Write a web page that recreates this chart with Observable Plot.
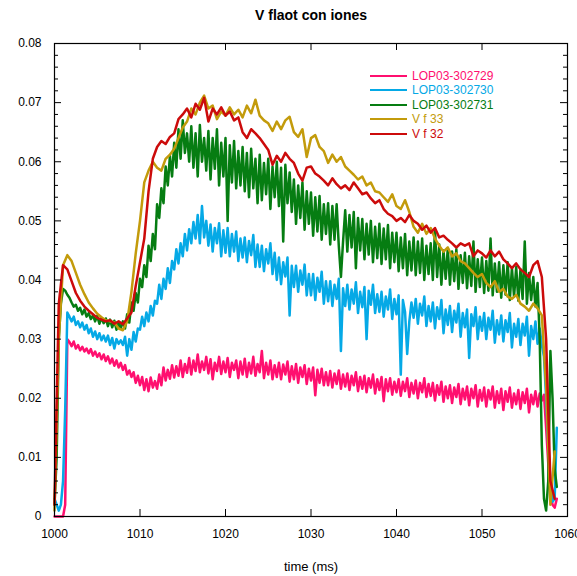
<!DOCTYPE html>
<html><head><meta charset="utf-8">
<script src="https://cdn.jsdelivr.net/npm/d3@7"></script>
<script src="https://cdn.jsdelivr.net/npm/@observablehq/plot@0.6"></script>
<style>
body{margin:0;background:#fff;font-family:"Liberation Sans",Arial,sans-serif;}
#wrap{position:relative;width:577px;height:576px;}
#legend{position:absolute;left:370px;top:68.5px;font-size:12px;}
.item{display:flex;align-items:center;height:14.5px;white-space:nowrap;}
.sw{width:37px;height:0;border-top:2.5px solid;margin-right:5px;}
</style></head><body><div id="wrap"><div id="legend"></div></div>
<script>
// sampling times for the smoother probe signals (0.5 ms)
const times = [
1000,1000.5,1001,1001.5,1002,1002.5,1003,1003.5,1004,1004.5,
1005,1005.5,1006,1006.5,1007,1007.5,1008,1008.5,1009,1009.5,
1010,1010.5,1011,1011.5,1012,1012.5,1013,1013.5,1014,1014.5,
1015,1015.5,1016,1016.5,1017,1017.5,1018,1018.5,1019,1019.5,
1020,1020.5,1021,1021.5,1022,1022.5,1023,1023.5,1024,1024.5,
1025,1025.5,1026,1026.5,1027,1027.5,1028,1028.5,1029,1029.5,
1030,1030.5,1031,1031.5,1032,1032.5,1033,1033.5,1034,1034.5,
1035,1035.5,1036,1036.5,1037,1037.5,1038,1038.5,1039,1039.5,
1040,1040.5,1041,1041.5,1042,1042.5,1043,1043.5,1044,1044.5,
1045,1045.5,1046,1046.5,1047,1047.5,1048,1048.5,1049,1049.5,
1050,1050.5,1051,1051.5,1052,1052.5,1053,1053.5,1054,1054.5,
1055,1055.5,1056,1056.5,1057,1057.5,1058,1058.5];

// sampling times for the noisy LOP03 shots (0.25 ms)
const timesFine = [
1000,1000.25,1000.5,1000.75,1001,1001.25,1001.5,1001.75,
1002,1002.25,1002.5,1002.75,1003,1003.25,1003.5,1003.75,
1004,1004.25,1004.5,1004.75,1005,1005.25,1005.5,1005.75,
1006,1006.25,1006.5,1006.75,1007,1007.25,1007.5,1007.75,
1008,1008.25,1008.5,1008.75,1009,1009.25,1009.5,1009.75,
1010,1010.25,1010.5,1010.75,1011,1011.25,1011.5,1011.75,
1012,1012.25,1012.5,1012.75,1013,1013.25,1013.5,1013.75,
1014,1014.25,1014.5,1014.75,1015,1015.25,1015.5,1015.75,
1016,1016.25,1016.5,1016.75,1017,1017.25,1017.5,1017.75,
1018,1018.25,1018.5,1018.75,1019,1019.25,1019.5,1019.75,
1020,1020.25,1020.5,1020.75,1021,1021.25,1021.5,1021.75,
1022,1022.25,1022.5,1022.75,1023,1023.25,1023.5,1023.75,
1024,1024.25,1024.5,1024.75,1025,1025.25,1025.5,1025.75,
1026,1026.25,1026.5,1026.75,1027,1027.25,1027.5,1027.75,
1028,1028.25,1028.5,1028.75,1029,1029.25,1029.5,1029.75,
1030,1030.25,1030.5,1030.75,1031,1031.25,1031.5,1031.75,
1032,1032.25,1032.5,1032.75,1033,1033.25,1033.5,1033.75,
1034,1034.25,1034.5,1034.75,1035,1035.25,1035.5,1035.75,
1036,1036.25,1036.5,1036.75,1037,1037.25,1037.5,1037.75,
1038,1038.25,1038.5,1038.75,1039,1039.25,1039.5,1039.75,
1040,1040.25,1040.5,1040.75,1041,1041.25,1041.5,1041.75,
1042,1042.25,1042.5,1042.75,1043,1043.25,1043.5,1043.75,
1044,1044.25,1044.5,1044.75,1045,1045.25,1045.5,1045.75,
1046,1046.25,1046.5,1046.75,1047,1047.25,1047.5,1047.75,
1048,1048.25,1048.5,1048.75,1049,1049.25,1049.5,1049.75,
1050,1050.25,1050.5,1050.75,1051,1051.25,1051.5,1051.75,
1052,1052.25,1052.5,1052.75,1053,1053.25,1053.5,1053.75,
1054,1054.25,1054.5,1054.75,1055,1055.25,1055.5,1055.75,
1056,1056.25,1056.5,1056.75,1057,1057.25,1057.5,1057.75,
1058,1058.25,1058.5,1058.75];

const lop302729 = [
.000,.000,.000,.000,.000,.002,.0300,.0295,
.0288,.0296,.0284,.0290,.0281,.0287,.0279,.0284,
.0276,.0283,.0272,.0279,.0270,.0276,.0266,.0274,
.0263,.0271,.0259,.0267,.0255,.0264,.0252,.0260,
.0248,.0256,.0240,.0247,.0236,.0244,.0226,.0238,
.0222,.0236,.0214,.0232,.0212,.0235,.0218,.0229,
.0216,.0240,.0222,.0252,.0230,.0248,.0233,.0256,
.0235,.0254,.0238,.0264,.0236,.0258,.0243,.0268,
.0240,.0264,.0246,.0274,.0244,.0262,.0248,.0270,
.0242,.0266,.0232,.0260,.0246,.0270,.0241,.0262,
.0244,.0268,.0236,.0260,.0248,.0264,.0234,.0262,
.0240,.0267,.0236,.0260,.0242,.0270,.0238,.0258,
.0244,.0280,.0234,.0260,.0240,.0264,.0232,.0256,
.0236,.0260,.0232,.0257,.0240,.0262,.0228,.0254,
.0232,.0258,.0226,.0252,.0236,.0256,.0224,.0250,
.0230,.0252,.0205,.0248,.0226,.0250,.0222,.0244,
.0222,.0246,.0218,.0242,.0224,.0247,.0216,.0240,
.0220,.0242,.0214,.0238,.0222,.0244,.0212,.0236,
.0216,.0238,.0210,.0234,.0218,.0240,.0208,.0232,
.0214,.0236,.0195,.0232,.0212,.0234,.0206,.0228,
.0210,.0232,.0204,.0228,.0212,.0234,.0202,.0226,
.0208,.0230,.0200,.0226,.0210,.0234,.0202,.0224,
.0204,.0226,.0196,.0222,.0206,.0228,.0194,.0220,
.0200,.0222,.0192,.0218,.0202,.0224,.0190,.0216,
.0198,.0220,.0188,.0216,.0200,.0222,.0186,.0214,
.0196,.0218,.0186,.0214,.0198,.0220,.0184,.0212,
.0192,.0216,.0180,.0212,.0194,.0218,.0184,.0208,
.0190,.0214,.0182,.0210,.0192,.0216,.0176,.0206,
.0190,.0212,.0186,.0208,.0196,.0206,.0150,.0090,
.0040,.0020,.0015,.0030];

const lop302730 = [
.003,.002,.001,.002,.006,.018,.0345,.0338,
.0330,.0338,.0324,.0330,.0320,.0328,.0316,.0324,
.0310,.0318,.0304,.0313,.0300,.0310,.0298,.0306,
.0296,.0306,.0290,.0302,.0284,.0300,.0292,.0298,
.0290,.0304,.0272,.0300,.0282,.0312,.0296,.0318,
.0316,.0338,.0322,.0345,.0330,.0356,.0340,.0365,
.0360,.0392,.0368,.0402,.0385,.0420,.0395,.0432,
.0418,.0452,.0428,.0462,.0440,.0478,.0450,.0486,
.0462,.0498,.0470,.0510,.0462,.0525,.0472,.0500,
.0458,.0494,.0448,.0488,.0462,.0496,.0440,.0484,
.0446,.0488,.0440,.0478,.0448,.0482,.0432,.0470,
.0438,.0472,.0430,.0466,.0442,.0476,.0422,.0460,
.0422,.0458,.0415,.0452,.0428,.0462,.0410,.0446,
.0400,.0438,.0393,.0430,.0406,.0438,.0340,.0424,
.0388,.0424,.0380,.0416,.0392,.0426,.0374,.0410,
.0374,.0410,.0366,.0404,.0380,.0414,.0360,.0398,
.0364,.0398,.0356,.0392,.0368,.0402,.0280,.0386,
.0356,.0392,.0350,.0384,.0360,.0396,.0344,.0380,
.0354,.0388,.0300,.0382,.0358,.0392,.0344,.0376,
.0346,.0380,.0338,.0372,.0350,.0384,.0334,.0368,
.0342,.0374,.0240,.0366,.0346,.0275,.0330,.0362,
.0336,.0368,.0326,.0360,.0340,.0372,.0322,.0356,
.0330,.0362,.0318,.0354,.0334,.0366,.0310,.0350,
.0324,.0356,.0312,.0348,.0328,.0360,.0304,.0344,
.0320,.0350,.0268,.0342,.0322,.0354,.0300,.0338,
.0314,.0344,.0300,.0336,.0316,.0348,.0294,.0332,
.0308,.0340,.0296,.0332,.0312,.0344,.0286,.0326,
.0304,.0334,.0290,.0326,.0306,.0338,.0272,.0322,
.0300,.0330,.0292,.0318,.0290,.0270,.0200,.0120,
.0060,.0025,.0030,.0150];

const lop302731 = [
.002,.010,.030,.036,.0385,.0382,.0375,.0370,
.0362,.0355,.0358,.0348,.0353,.0342,.0350,.0338,
.0344,.0334,.0340,.0330,.0339,.0326,.0336,.0327,
.0335,.0322,.0333,.0320,.0331,.0316,.0328,.0318,
.0330,.0318,.0342,.0328,.0362,.0348,.0378,.0362,
.0402,.0388,.0425,.0405,.0458,.0432,.0478,.0452,
.0528,.0505,.0555,.0530,.0592,.0560,.0610,.0575,
.0632,.0590,.0655,.0605,.0670,.0615,.0648,.0600,
.0660,.0590,.0648,.0575,.0662,.0600,.0640,.0585,
.0652,.0570,.0640,.0588,.0655,.0560,.0632,.0575,
.0640,.0500,.0628,.0565,.0635,.0555,.0618,.0560,
.0625,.0550,.0615,.0540,.0622,.0555,.0605,.0530,
.0612,.0535,.0598,.0545,.0605,.0520,.0592,.0540,
.0600,.0525,.0590,.0465,.0595,.0530,.0582,.0515,
.0570,.0495,.0560,.0505,.0565,.0485,.0550,.0495,
.0548,.0475,.0540,.0482,.0542,.0468,.0528,.0478,
.0530,.0460,.0525,.0468,.0528,.0458,.0405,.0465,
.0518,.0448,.0510,.0455,.0515,.0420,.0505,.0450,
.0503,.0435,.0495,.0443,.0500,.0430,.0490,.0437,
.0495,.0427,.0487,.0435,.0493,.0420,.0480,.0430,
.0480,.0415,.0472,.0420,.0478,.0408,.0465,.0416,
.0472,.0408,.0465,.0412,.0470,.0400,.0458,.0410,
.0462,.0400,.0485,.0405,.0460,.0392,.0450,.0402,
.0454,.0392,.0448,.0398,.0452,.0385,.0442,.0395,
.0446,.0386,.0440,.0390,.0465,.0380,.0435,.0388,
.0438,.0378,.0432,.0382,.0470,.0374,.0428,.0380,
.0430,.0370,.0425,.0375,.0430,.0366,.0420,.0372,
.0422,.0365,.0418,.0368,.0465,.0360,.0412,.0366,
.0405,.0355,.0395,.0300,.0120,.0030,.0010,.0060,
.0280,.0200,.0080,.0050];

const vf33 = [
.001,.030,.0425,.0442,.0432,.0412,.0392,.0376,.0362,.0352,
.0343,.0337,.0332,.0330,.0328,.0318,.0315,.0330,.0380,.0445,
.0500,.0565,.0585,.0600,.0590,.0585,.0605,.0612,.0622,.0640,
.0658,.0668,.0690,.0680,.0700,.0712,.0690,.0695,.0672,.0685,
.0678,.0692,.0680,.0688,.0675,.0695,.0682,.0705,.0678,.0670,
.0665,.0652,.0668,.0655,.0670,.0676,.0650,.0642,.0655,.0608,
.0640,.0645,.0625,.0618,.0598,.0612,.0600,.0608,.0592,.0585,
.0578,.0570,.0575,.0560,.0565,.0550,.0548,.0540,.0532,.0545,
.0525,.0520,.0535,.0515,.0490,.0480,.0495,.0478,.0488,.0470,
.0458,.0448,.0455,.0440,.0445,.0432,.0428,.0420,.0412,.0405,
.0410,.0395,.0388,.0398,.0380,.0385,.0372,.0368,.0375,.0360,
.0355,.0348,.0360,.0352,.0340,.0220,.0020,.0110];

const vf32 = [
.002,.036,.0425,.0418,.0398,.0378,.0365,.0355,.0348,.0342,
.0336,.0333,.0330,.0332,.0326,.0330,.0325,.0335,.0345,.0390,
.0430,.0470,.0550,.0605,.0625,.0635,.0630,.0642,.0648,.0672,
.0680,.0690,.0675,.0698,.0688,.0708,.0668,.0690,.0680,.0692,
.0678,.0685,.0670,.0675,.0650,.0640,.0655,.0648,.0640,.0630,
.0620,.0595,.0610,.0600,.0615,.0605,.0598,.0580,.0568,.0590,
.0592,.0580,.0575,.0568,.0560,.0572,.0562,.0555,.0560,.0552,
.0565,.0555,.0545,.0548,.0538,.0530,.0535,.0520,.0512,.0508,
.0500,.0505,.0498,.0510,.0500,.0495,.0485,.0492,.0480,.0488,
.0472,.0475,.0468,.0462,.0455,.0462,.0458,.0462,.0440,.0450,
.0445,.0438,.0450,.0440,.0448,.0435,.0428,.0420,.0428,.0418,
.0412,.0405,.0425,.0432,.0405,.0300,.0060,.0030];

const seriesNames = ["LOP03-302729","LOP03-302730","LOP03-302731","V f 33","V f 32"];
const seriesValues = [lop302729, lop302730, lop302731, vf33, vf32];
const seriesTimes = [timesFine, timesFine, timesFine, times, times];
const seriesColors = ["#ff0f6f","#05a9e6","#067d12","#c39b0b","#cc0b0b"];

const xTicks = [1000,1010,1020,1030,1040,1050,1060];
const yTicks = [0,0.01,0.02,0.03,0.04,0.05,0.06,0.07,0.08];
const yMinor = [0.002,0.004,0.006,0.008,0.012,0.014,0.016,0.018,0.022,0.024,0.026,0.028,
  0.032,0.034,0.036,0.038,0.042,0.044,0.046,0.048,0.052,0.054,0.056,0.058,
  0.062,0.064,0.066,0.068,0.072,0.074,0.076,0.078];
const yTickLabels = ["0","0.01","0.02","0.03","0.04","0.05","0.06","0.07","0.08"];
const titleText = "V flaot con iones";
const xLabel = "time (ms)";

const rows = [];
seriesValues.forEach((vals, s) => vals.forEach((v, i) => rows.push({t: seriesTimes[s][i], v, s: seriesNames[s]})));

const W = 577, H = 576, mL = 54, mR = 10, mT = 43, mB = 60;
const pw = W - mL - mR, ph = H - mT - mB;
const major = 7, minor = 4;

const chart = Plot.plot({
  width: W, height: H,
  marginLeft: mL, marginRight: mR, marginTop: mT, marginBottom: mB,
  style: {fontFamily: "'Liberation Sans', Arial, sans-serif", fontSize: "12px", background: "#fff"},
  x: {domain: [1000, 1060], label: null},
  y: {domain: [0, 0.08], label: null},
  color: {domain: seriesNames, range: seriesColors},
  marks: [
    Plot.line(rows, {x: "t", y: "v", z: "s", stroke: "s", strokeWidth: 2.5, strokeLinejoin: "round"}),
    Plot.frame({stroke: "#000", strokeWidth: 1.2}),
    Plot.tickX(xTicks, {x: d => d, insetTop: ph - major, stroke: "#000"}),
    Plot.tickX(xTicks, {x: d => d, insetBottom: ph - major, stroke: "#000"}),
    Plot.tickY(yTicks, {y: d => d, insetRight: pw - major, stroke: "#000"}),
    Plot.tickY(yTicks, {y: d => d, insetLeft: pw - major, stroke: "#000"}),
    Plot.tickY(yMinor, {y: d => d, insetRight: pw - minor, stroke: "#000"}),
    Plot.tickY(yMinor, {y: d => d, insetLeft: pw - minor, stroke: "#000"}),
    Plot.axisX(xTicks, {tickSize: 0, tickPadding: 13, label: null, fontSize: 12, tickFormat: d => String(d)}),
    Plot.axisY(yTicks, {tickSize: 0, tickPadding: 13, label: null, fontSize: 12, tickFormat: d => yTickLabels[yTicks.indexOf(d)]}),
    Plot.text([titleText], {frameAnchor: "top", dy: -28, text: d => d, fontWeight: "bold", fontSize: 14, lineAnchor: "middle"}),
    Plot.text([xLabel], {frameAnchor: "bottom", dy: 50, text: d => d, fontSize: 13, lineAnchor: "middle"})
  ]
});
document.getElementById("wrap").prepend(chart);

const legend = document.getElementById("legend");
seriesNames.forEach((n, i) => {
  const item = document.createElement("div");
  item.className = "item";
  item.innerHTML = `<span class="sw" style="border-color:${seriesColors[i]}"></span><span style="color:${seriesColors[i]}">${n}</span>`;
  legend.appendChild(item);
});
</script></body></html>
